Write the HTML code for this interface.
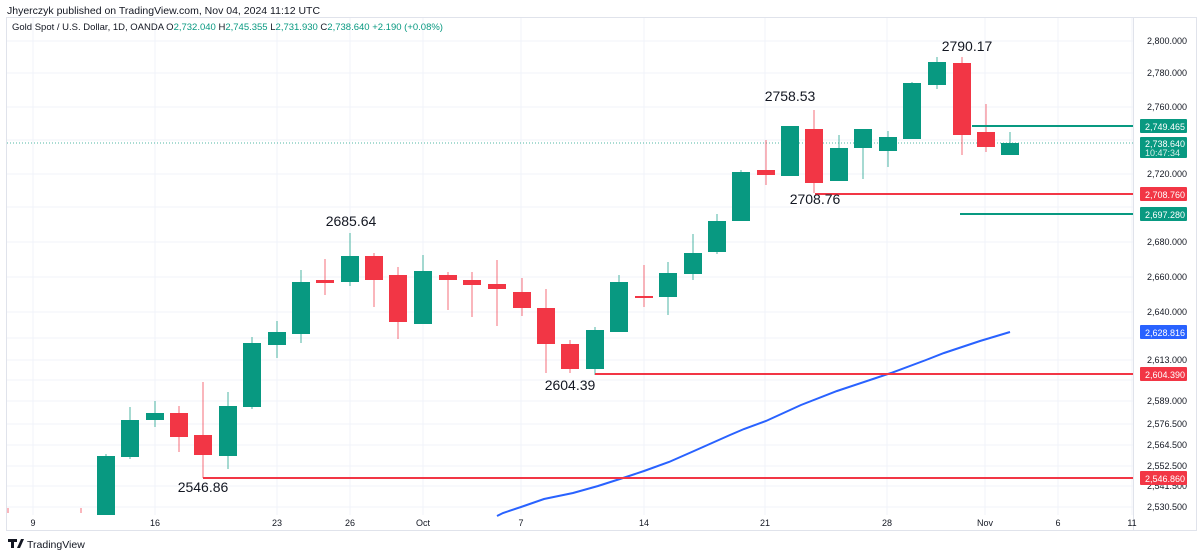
<!DOCTYPE html>
<html><head><meta charset="utf-8"><style>
body{margin:0;background:#fff;width:1200px;height:555px;overflow:hidden;font-family:"Liberation Sans",sans-serif}
</style></head><body>
<svg width="1200" height="555" xmlns="http://www.w3.org/2000/svg" font-family="Liberation Sans, sans-serif">
<rect width="1200" height="555" fill="#fff"/>
<text x="7" y="14" font-size="10.5" fill="#131722">Jhyerczyk published on TradingView.com, Nov 04, 2024 11:12 UTC</text>
<rect x="6.5" y="17.5" width="1190" height="513" fill="none" stroke="#e0e3eb"/>
<line x1="1133.5" y1="18" x2="1133.5" y2="531" stroke="#e0e3eb"/>
<g stroke="#f0f3fa" stroke-width="1">
<line x1="7" x2="1133" y1="41" y2="41"/><line x1="7" x2="1133" y1="73" y2="73"/><line x1="7" x2="1133" y1="107" y2="107"/><line x1="7" x2="1133" y1="140" y2="140"/><line x1="7" x2="1133" y1="174" y2="174"/><line x1="7" x2="1133" y1="207" y2="207"/><line x1="7" x2="1133" y1="242" y2="242"/><line x1="7" x2="1133" y1="277" y2="277"/><line x1="7" x2="1133" y1="312" y2="312"/><line x1="7" x2="1133" y1="338" y2="338"/><line x1="7" x2="1133" y1="360" y2="360"/><line x1="7" x2="1133" y1="380" y2="380"/><line x1="7" x2="1133" y1="401" y2="401"/><line x1="7" x2="1133" y1="424" y2="424"/><line x1="7" x2="1133" y1="445" y2="445"/><line x1="7" x2="1133" y1="466" y2="466"/><line x1="7" x2="1133" y1="486" y2="486"/><line x1="7" x2="1133" y1="507" y2="507"/>
<line y1="18" y2="515" x1="33" x2="33"/><line y1="18" y2="515" x1="155" x2="155"/><line y1="18" y2="515" x1="277" x2="277"/><line y1="18" y2="515" x1="350" x2="350"/><line y1="18" y2="515" x1="423" x2="423"/><line y1="18" y2="515" x1="521" x2="521"/><line y1="18" y2="515" x1="644" x2="644"/><line y1="18" y2="515" x1="765" x2="765"/><line y1="18" y2="515" x1="887" x2="887"/><line y1="18" y2="515" x1="985" x2="985"/><line y1="18" y2="515" x1="1058" x2="1058"/><line y1="18" y2="515" x1="1132" x2="1132"/>
</g>
<text x="12" y="30" font-size="9.5" fill="#131722">Gold Spot / U.S. Dollar, 1D, OANDA  O<tspan fill="#089981">2,732.040</tspan>  H<tspan fill="#089981">2,745.355</tspan>  L<tspan fill="#089981">2,731.930</tspan>  C<tspan fill="#089981">2,738.640  +2.190 (+0.08%)</tspan></text>
<line x1="7" x2="1133" y1="143" y2="143" stroke="#089981" stroke-dasharray="1,2" opacity="0.7"/>
<g stroke-width="1.2" stroke-opacity="0.6">
<line x1="8" x2="8" y1="508" y2="513" stroke="#f23645"/>
<line x1="81" x2="81" y1="508" y2="513" stroke="#f23645"/>
<line x1="106" x2="106" y1="454" y2="515" stroke="#089981"/>
<line x1="130" x2="130" y1="407" y2="459" stroke="#089981"/>
<line x1="155" x2="155" y1="401" y2="427" stroke="#089981"/>
<line x1="179" x2="179" y1="406" y2="452" stroke="#f23645"/>
<line x1="203" x2="203" y1="382" y2="478" stroke="#f23645"/>
<line x1="228" x2="228" y1="392" y2="469" stroke="#089981"/>
<line x1="252" x2="252" y1="337" y2="409" stroke="#089981"/>
<line x1="277" x2="277" y1="321" y2="358" stroke="#089981"/>
<line x1="301" x2="301" y1="270" y2="343" stroke="#089981"/>
<line x1="325" x2="325" y1="259" y2="295" stroke="#f23645"/>
<line x1="350" x2="350" y1="233" y2="286" stroke="#089981"/>
<line x1="374" x2="374" y1="253" y2="307" stroke="#f23645"/>
<line x1="398" x2="398" y1="267" y2="339" stroke="#f23645"/>
<line x1="423" x2="423" y1="255" y2="324" stroke="#089981"/>
<line x1="448" x2="448" y1="272" y2="310" stroke="#f23645"/>
<line x1="472" x2="472" y1="272" y2="317" stroke="#f23645"/>
<line x1="497" x2="497" y1="260" y2="326" stroke="#f23645"/>
<line x1="522" x2="522" y1="278" y2="316" stroke="#f23645"/>
<line x1="546" x2="546" y1="289" y2="373" stroke="#f23645"/>
<line x1="570" x2="570" y1="340" y2="373" stroke="#f23645"/>
<line x1="595" x2="595" y1="327" y2="375" stroke="#089981"/>
<line x1="619" x2="619" y1="275" y2="332" stroke="#089981"/>
<line x1="644" x2="644" y1="265" y2="307" stroke="#f23645"/>
<line x1="668" x2="668" y1="262" y2="315" stroke="#089981"/>
<line x1="693" x2="693" y1="234" y2="280" stroke="#089981"/>
<line x1="717" x2="717" y1="214" y2="254" stroke="#089981"/>
<line x1="741" x2="741" y1="170" y2="221" stroke="#089981"/>
<line x1="766" x2="766" y1="140" y2="185" stroke="#f23645"/>
<line x1="814" x2="814" y1="110" y2="193" stroke="#f23645"/>
<line x1="839" x2="839" y1="135" y2="181" stroke="#089981"/>
<line x1="863" x2="863" y1="129" y2="179" stroke="#089981"/>
<line x1="888" x2="888" y1="131" y2="167" stroke="#089981"/>
<line x1="912" x2="912" y1="82" y2="139" stroke="#089981"/>
<line x1="937" x2="937" y1="57" y2="89" stroke="#089981"/>
<line x1="962" x2="962" y1="57" y2="155" stroke="#f23645"/>
<line x1="986" x2="986" y1="104" y2="152" stroke="#f23645"/>
<line x1="1010" x2="1010" y1="132" y2="155" stroke="#089981"/>
</g>
<g fill="#089981">
<rect x="97" y="456" width="18" height="59"/>
<rect x="121" y="420" width="18" height="37"/>
<rect x="146" y="413" width="18" height="7"/>
<rect x="219" y="406" width="18" height="50"/>
<rect x="243" y="343" width="18" height="64"/>
<rect x="268" y="332" width="18" height="13"/>
<rect x="292" y="282" width="18" height="52"/>
<rect x="341" y="256" width="18" height="26"/>
<rect x="414" y="271" width="18" height="53"/>
<rect x="586" y="330" width="18" height="39"/>
<rect x="610" y="282" width="18" height="50"/>
<rect x="659" y="273" width="18" height="24"/>
<rect x="684" y="253" width="18" height="21"/>
<rect x="708" y="221" width="18" height="31"/>
<rect x="732" y="172" width="18" height="49"/>
<rect x="781" y="126" width="18" height="50"/>
<rect x="830" y="148" width="18" height="33"/>
<rect x="854" y="129" width="18" height="19"/>
<rect x="879" y="137" width="18" height="14"/>
<rect x="903" y="83" width="18" height="56"/>
<rect x="928" y="62" width="18" height="23"/>
<rect x="1001" y="143" width="18" height="12"/>
</g>
<g fill="#f23645">
<rect x="170" y="413" width="18" height="24"/>
<rect x="194" y="435" width="18" height="20"/>
<rect x="316" y="280" width="18" height="3"/>
<rect x="365" y="256" width="18" height="24"/>
<rect x="389" y="275" width="18" height="47"/>
<rect x="439" y="275" width="18" height="5"/>
<rect x="463" y="280" width="18" height="5"/>
<rect x="488" y="284" width="18" height="5"/>
<rect x="513" y="292" width="18" height="16"/>
<rect x="537" y="308" width="18" height="36"/>
<rect x="561" y="344" width="18" height="25"/>
<rect x="635" y="296" width="18" height="2"/>
<rect x="757" y="170" width="18" height="5"/>
<rect x="805" y="129" width="18" height="54"/>
<rect x="953" y="63" width="18" height="72"/>
<rect x="977" y="132" width="18" height="15"/>
</g>
<polyline fill="none" stroke="#2962ff" stroke-width="2" points="497,516 503,513 521,507 544,499 573,493 598,486 623,478 644,471 669,462 694,451 730,435 744,429 766,421 801,405 837,391 873,379 891,373 926,360 944,353 980,341 1010,332"/>
<g stroke-width="2">
<line x1="972" x2="1133" y1="126" y2="126" stroke="#089981"/>
<line x1="815" x2="1133" y1="194" y2="194" stroke="#f23645"/>
<line x1="960" x2="1133" y1="214" y2="214" stroke="#089981"/>
<line x1="595" x2="1133" y1="374" y2="374" stroke="#f23645"/>
<line x1="203" x2="1133" y1="478" y2="478" stroke="#f23645"/>
</g>
<g font-size="14" fill="#131722" text-anchor="middle">
<text x="967" y="51">2790.17</text><text x="790" y="101">2758.53</text><text x="815" y="204">2708.76</text><text x="351" y="226">2685.64</text><text x="570" y="390">2604.39</text><text x="203" y="492">2546.86</text>
</g>
<g font-size="9" fill="#131722">
<text x="1147" y="44">2,800.000</text><text x="1147" y="76">2,780.000</text><text x="1147" y="110">2,760.000</text><text x="1147" y="177">2,720.000</text><text x="1147" y="245">2,680.000</text><text x="1147" y="280">2,660.000</text><text x="1147" y="315">2,640.000</text><text x="1147" y="363">2,613.000</text><text x="1147" y="404">2,589.000</text><text x="1147" y="427">2,576.500</text><text x="1147" y="448">2,564.500</text><text x="1147" y="469">2,552.500</text><text x="1147" y="489">2,541.500</text><text x="1147" y="510">2,530.500</text>
</g>
<g font-size="9" fill="#fff">
<rect x="1140" y="119" width="47" height="14" fill="#089981" rx="1"/><text x="1145" y="130">2,749.465</text>
<rect x="1140" y="137" width="47" height="21" fill="#089981" rx="1"/><text x="1145" y="147">2,738.640</text><text x="1145" y="156" fill="#d8f0ea">10:47:34</text>
<rect x="1140" y="187" width="47" height="14" fill="#f23645" rx="1"/><text x="1145" y="198">2,708.760</text>
<rect x="1140" y="207" width="47" height="14" fill="#089981" rx="1"/><text x="1145" y="218">2,697.280</text>
<rect x="1140" y="325" width="47" height="14" fill="#2962ff" rx="1"/><text x="1145" y="336">2,628.816</text>
<rect x="1140" y="367" width="47" height="14" fill="#f23645" rx="1"/><text x="1145" y="378">2,604.390</text>
<rect x="1140" y="471" width="47" height="14" fill="#f23645" rx="1"/><text x="1145" y="482">2,546.860</text>
</g>
<g font-size="9" fill="#131722" text-anchor="middle">
<text x="33" y="526">9</text><text x="155" y="526">16</text><text x="277" y="526">23</text><text x="350" y="526">26</text><text x="423" y="526">Oct</text><text x="521" y="526">7</text><text x="644" y="526">14</text><text x="765" y="526">21</text><text x="887" y="526">28</text><text x="985" y="526">Nov</text><text x="1058" y="526">6</text><text x="1132" y="526">11</text>
</g>
<g fill="#131722"><rect x="8" y="539" width="9" height="3"/><rect x="11" y="539" width="3" height="9"/><polygon points="17,548 20,548 24,539 21,539"/></g>
<text x="27" y="548" font-size="10.5" fill="#131722">TradingView</text>
</svg>
</body></html>
